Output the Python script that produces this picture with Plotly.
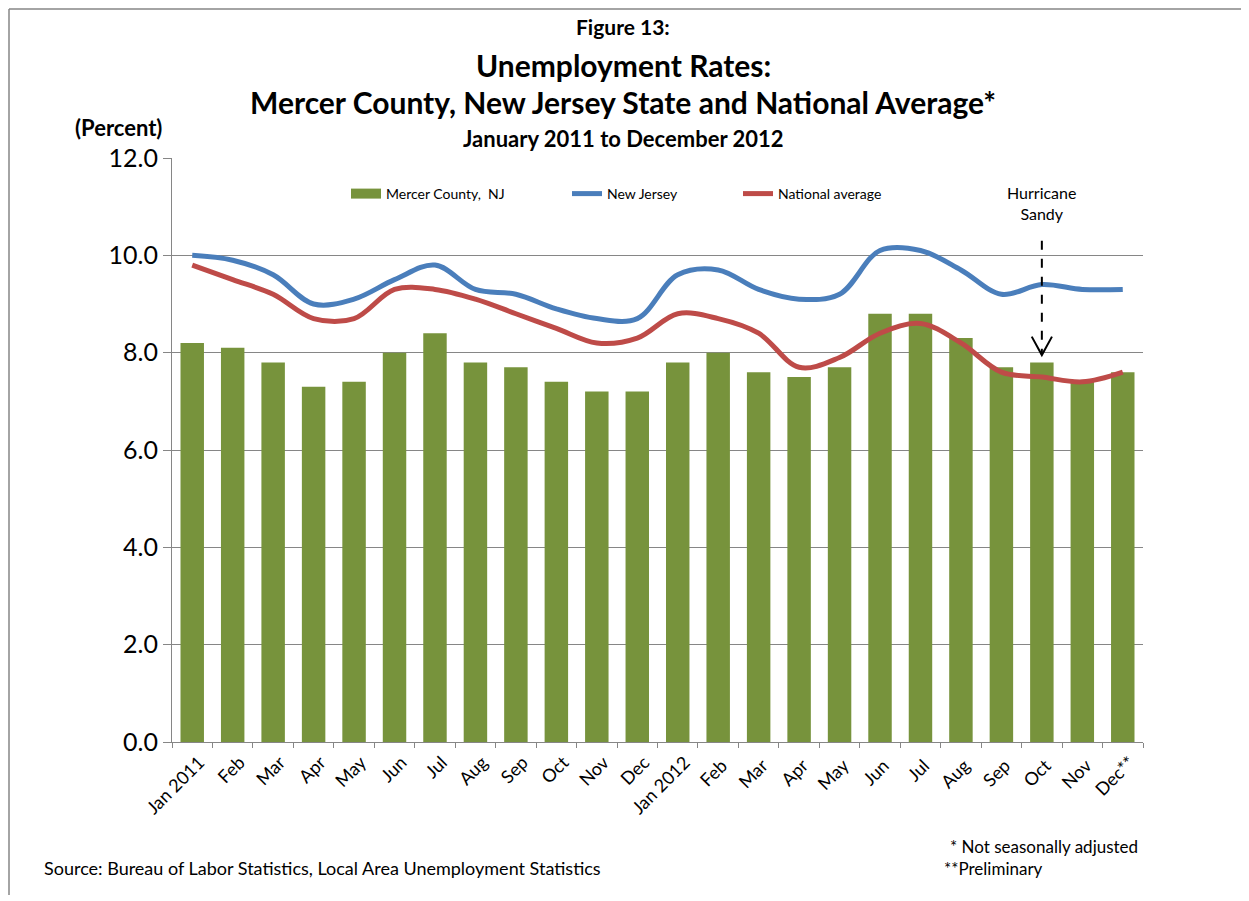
import plotly.graph_objects as go

# Monthly labels, Jan 2011 .. Dec 2012
months = ['Jan 2011', 'Feb', 'Mar', 'Apr', 'May', 'Jun', 'Jul', 'Aug', 'Sep',
          'Oct', 'Nov', 'Dec', 'Jan 2012', 'Feb ', 'Mar ', 'Apr ', 'May ',
          'Jun ', 'Jul ', 'Aug ', 'Sep ', 'Oct ', 'Nov ', 'Dec**']

mercer = [8.2, 8.1, 7.8, 7.3, 7.4, 8.0, 8.4, 7.8, 7.7, 7.4, 7.2, 7.2,
          7.8, 8.0, 7.6, 7.5, 7.7, 8.8, 8.8, 8.3, 7.7, 7.8, 7.4, 7.6]
new_jersey = [10.0, 9.9, 9.6, 9.0, 9.1, 9.5, 9.8, 9.3, 9.2, 8.9, 8.7, 8.7,
              9.6, 9.7, 9.3, 9.1, 9.2, 10.1, 10.1, 9.7, 9.2, 9.4, 9.3, 9.3]
national = [9.8, 9.5, 9.2, 8.7, 8.7, 9.3, 9.3, 9.1, 8.8, 8.5, 8.2, 8.3,
            8.8, 8.7, 8.4, 7.7, 7.9, 8.4, 8.6, 8.2, 7.6, 7.5, 7.4, 7.6]

y_ticks = [0, 2, 4, 6, 8, 10, 12]
sandy_idx = 21  # Oct 2012

FONT = 'Lato'
GREEN = '#77933C'
BLUE = '#4A7EBB'
RED = '#BE4B48'
GRID = '#868686'

# the page body has an 8px margin, so the figure is 8px smaller and
# positions below are given in page pixels and converted to paper units
PLOT_L, PLOT_R, PLOT_T, PLOT_B = 172, 1143, 158, 742


def px(x):
    return (x - PLOT_L) / (PLOT_R - PLOT_L)


def py(y):
    return (PLOT_B - y) / (PLOT_B - PLOT_T)


fig = go.Figure()

fig.add_trace(go.Bar(
    x=months, y=mercer, name='Mercer County,  NJ',
    marker=dict(color=GREEN, line=dict(width=0)),
    showlegend=False
))
# legend proxy so the bar key is drawn as a wide rectangle like the original
fig.add_trace(go.Scatter(
    x=[None], y=[None], name='Mercer County,  NJ', mode='lines',
    line=dict(color=GREEN, width=10), legend='legend'
))
fig.add_trace(go.Scatter(
    x=months, y=new_jersey, name='New Jersey', mode='lines',
    line=dict(color=BLUE, width=5, shape='spline', smoothing=1.0),
    legend='legend2'
))
fig.add_trace(go.Scatter(
    x=months, y=national, name='National average', mode='lines',
    line=dict(color=RED, width=5, shape='spline', smoothing=1.0),
    legend='legend3'
))

legend_common = dict(orientation='h', yanchor='middle', y=py(194),
                     xanchor='left', bgcolor='rgba(0,0,0,0)',
                     font=dict(family=FONT, size=14, color='black'),
                     itemwidth=30)

fig.update_layout(
    width=1241, height=893,
    margin=dict(l=PLOT_L - 8, r=1249 - PLOT_R, t=PLOT_T - 8, b=901 - PLOT_B),
    plot_bgcolor='white', paper_bgcolor='white',
    font=dict(family=FONT, color='black'),
    bargap=0.42,
    showlegend=True,
    legend=dict(x=px(346), **legend_common),
    legend2=dict(x=px(567), **legend_common),
    legend3=dict(x=px(738), **legend_common),
)

fig.update_yaxes(
    range=[0, 12], tickvals=y_ticks, tickformat='.1f',
    tickfont=dict(family=FONT, size=25, color='black'),
    showgrid=True, gridcolor=GRID, gridwidth=1,
    showline=True, linecolor=GRID, linewidth=1,
    ticks='outside', ticklen=8, tickcolor=GRID,
    zeroline=False, fixedrange=True, automargin=False
)
fig.update_xaxes(
    type='category', tickangle=-45, tickson='boundaries',
    tickfont=dict(family=FONT, size=18, color='black'),
    ticklabelshift=7, ticklabelstandoff=2,
    showline=True, linecolor=GRID, linewidth=1,
    ticks='outside', ticklen=5, tickcolor=GRID,
    showgrid=False, fixedrange=True, automargin=False
)

# Hurricane Sandy marker: dashed line with open arrow head
fig.add_shape(type='line', xref='x', yref='y',
              x0=sandy_idx, x1=sandy_idx, y0=10.3, y1=7.95,
              line=dict(color='black', width=2, dash='dash'))
fig.add_shape(type='path', xref='x', yref='y',
              path=f'M {sandy_idx - 0.25},8.33 L {sandy_idx},7.95 L {sandy_idx + 0.25},8.33',
              line=dict(color='black', width=2))
fig.add_annotation(x=sandy_idx, y=11.08, xref='x', yref='y',
                   yanchor='middle', xanchor='center',
                   text='Hurricane<br>Sandy', showarrow=False,
                   font=dict(family=FONT, size=16, color='black'))

# titles
titles = [
    ('Figure 13:', 26, 21),
    ('Unemployment Rates:', 65, 30),
    ('Mercer County, New Jersey State and National Average*', 102, 30),
    ('January 2011 to December 2012', 138, 22),
]
for text, ypix, size in titles:
    fig.add_annotation(x=px(623), y=py(ypix), xref='paper', yref='paper',
                       xanchor='center', yanchor='middle', showarrow=False,
                       text=f'<b>{text}</b>',
                       font=dict(family=FONT, size=size, color='black'))

fig.add_annotation(x=px(118), y=py(128), xref='paper', yref='paper',
                   xanchor='center', yanchor='middle', showarrow=False,
                   text='<b>(Percent)</b>',
                   font=dict(family=FONT, size=22, color='black'))

fig.add_annotation(x=px(42), y=py(868), xref='paper', yref='paper',
                   xanchor='left', yanchor='middle', showarrow=False,
                   text='Source: Bureau of Labor Statistics, Local Area Unemployment Statistics',
                   font=dict(family=FONT, size=18, color='black'))
fig.add_annotation(x=px(948), y=py(846), xref='paper', yref='paper',
                   xanchor='left', yanchor='middle', showarrow=False,
                   text='* Not seasonally adjusted',
                   font=dict(family=FONT, size=17, color='black'))
fig.add_annotation(x=px(942), y=py(868), xref='paper', yref='paper',
                   xanchor='left', yanchor='middle', showarrow=False,
                   text='**Preliminary',
                   font=dict(family=FONT, size=17, color='black'))

# outer frame (left and top edges)
fig.add_shape(type='line', xref='paper', yref='paper',
              x0=px(9), x1=px(9), y0=py(9), y1=py(895),
              line=dict(color=GRID, width=1.5))
fig.add_shape(type='line', xref='paper', yref='paper',
              x0=px(9), x1=px(1249), y0=py(9), y1=py(9),
              line=dict(color=GRID, width=1.5))

fig.write_html('out.html')
